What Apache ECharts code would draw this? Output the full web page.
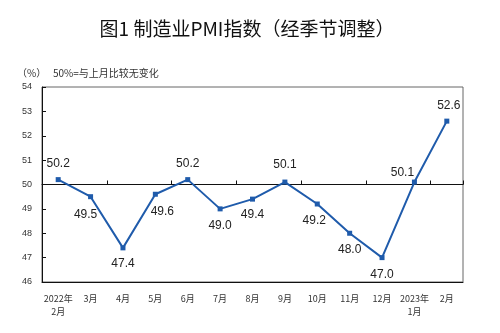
<!DOCTYPE html>
<html><head><meta charset="utf-8">
<script src="https://cdn.jsdelivr.net/npm/echarts@6/dist/echarts.min.js"></script>
<style>html,body{margin:0;padding:0;background:#fff}#c{width:500px;height:333px}</style>
</head><body><div id="c"></div>
<script>
var categories = ['2022年\n2月','3月','4月','5月','6月','7月','8月','9月','10月','11月','12月','2023年\n1月','2月'];
var pmiValues = [50.2, 49.5, 47.4, 49.6, 50.2, 49.0, 49.4, 50.1, 49.2, 48.0, 47.0, 50.1, 52.6];
var yTicks = [46, 47, 48, 49, 50, 51, 52, 53, 54];
var labelOffsets = [[0,-16],[-5,18],[0,16],[7,17],[0,-16],[0,17],[0,16],[0,-17],[-3,17],[0,16],[0,17],[-12,-9],[2,-15]];

var chart = echarts.init(document.getElementById('c'));
var data = pmiValues.map(function(v,i){
  return {value: v, label: {show: true, position: 'inside', offset: labelOffsets[i]}};
});
var gridBox = {left: 42, right: 37, top: 87, bottom: 51};
chart.setOption({
  animation: false,
  title: [{
    text: '图1 制造业PMI指数（经季节调整）',
    left: 242, top: 14, textAlign: 'center',
    textStyle: {fontFamily: 'Noto Sans CJK SC', fontSize: 19, fontWeight: 'normal', color: '#111'}
  },{
    text: '（%）   50%=与上月比较无变化',
    left: 12, top: 63,
    textStyle: {fontFamily: 'Noto Sans CJK SC', fontSize: 10, fontWeight: 'normal', color: '#333'}
  }],
  grid: [
    Object.assign({show: true, borderColor: '#666', borderWidth: 1}, gridBox),
    Object.assign({show: false}, gridBox)
  ],
  xAxis: [{
    type: 'category', data: categories, boundaryGap: true, position: 'bottom', gridIndex: 0,
    axisLine: {onZero: false, lineStyle: {color: '#111', width: 1}},
    axisTick: {show: false},
    axisLabel: {fontFamily: 'Noto Sans CJK SC', fontSize: 9, color: '#333', lineHeight: 13, margin: 10, interval: 0}
  },{
    type: 'category', data: categories, boundaryGap: true, position: 'bottom', gridIndex: 1,
    axisLine: {onZero: true, lineStyle: {color: '#111', width: 1}},
    axisTick: {show: true, inside: true, length: 4, lineStyle: {color: '#111'}},
    axisLabel: {show: false}
  }],
  yAxis: [{
    type: 'value', min: 46, max: 54, interval: 1, gridIndex: 0,
    axisLine: {show: true, lineStyle: {color: '#111', width: 1}},
    axisTick: {show: true, inside: true, length: 4, lineStyle: {color: '#111'}},
    axisLabel: {fontFamily: 'Liberation Sans', fontSize: 9, color: '#333', margin: 10,
      formatter: function(v){ return yTicks.indexOf(v) >= 0 ? String(v) : ''; }},
    splitLine: {show: false}
  },{
    type: 'value', min: -4, max: 4, interval: 1, gridIndex: 1,
    axisLine: {show: false}, axisTick: {show: false}, axisLabel: {show: false}, splitLine: {show: false}
  }],
  series: [{
    type: 'line', data: [], xAxisIndex: 1, yAxisIndex: 1, silent: true
  },{
    type: 'line', data: data, xAxisIndex: 0, yAxisIndex: 0, z: 5,
    symbol: 'rect', symbolSize: 5,
    lineStyle: {color: '#1f5bab', width: 2},
    itemStyle: {color: '#1f5bab'},
    label: {fontFamily: 'Liberation Sans', fontSize: 12, color: '#222',
      formatter: function(p){ return p.value.toFixed(1); }}
  }]
});
</script></body></html>
